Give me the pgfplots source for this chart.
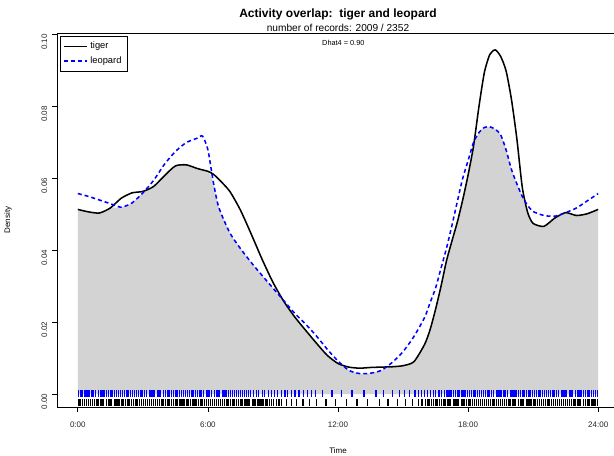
\documentclass[border=0pt]{standalone}
\usepackage{fontspec}
\setmainfont{Liberation Sans}
\usepackage{pgfplots}
\usepackage{pgfplotstable}
\pgfplotsset{compat=1.18}

% kernel density estimates of activity (density per hour)
\pgfplotstableread{
t      tiger   leopard  overlap
0.0    0.0514  0.0558   0.0514
0.5    0.0507  0.0550   0.0507
1.0    0.0504  0.0540   0.0504
1.5    0.0518  0.0530   0.0518
2.0    0.0545  0.0520   0.0520
2.5    0.0560  0.0532   0.0532
3.0    0.0564  0.0560   0.0560
3.5    0.0578  0.0595   0.0578
4.0    0.0608  0.0640   0.0608
4.5    0.0635  0.0675   0.0635
5.0    0.0638  0.0700   0.0638
5.5    0.0628  0.0712   0.0628
5.75   0.0624  0.0718   0.0624
6.0    0.0620  0.0680   0.0620
6.25   0.0612  0.0590   0.0590
6.5    0.0598  0.0520   0.0520
7.0    0.0565  0.0450   0.0450
7.5    0.0512  0.0405   0.0405
8.0    0.0445  0.0366   0.0366
8.5    0.0375  0.0330   0.0330
9.0    0.0311  0.0295   0.0295
9.5    0.0258  0.0260   0.0258
10.0   0.0215  0.0225   0.0215
10.5   0.0178  0.0195   0.0178
11.0   0.0142  0.0162   0.0142
11.5   0.0108  0.0125   0.0108
12.0   0.0085  0.0092   0.0085
12.5   0.0075  0.0066   0.0066
13.0   0.0072  0.0057   0.0057
13.5   0.0074  0.0058   0.0058
14.0   0.0075  0.0066   0.0066
14.5   0.0076  0.0088   0.0076
15.0   0.0079  0.0118   0.0079
15.5   0.0090  0.0160   0.0090
16.0   0.0139  0.0214   0.0139
16.25  0.0180  0.0255   0.0180
16.5   0.0236  0.0295   0.0236
16.75  0.0300  0.0350   0.0300
17.0   0.0370  0.0405   0.0370
17.25  0.0425  0.0468   0.0425
17.5   0.0478  0.0535   0.0478
17.75  0.0540  0.0600   0.0540
18.0   0.0610  0.0650   0.0610
18.25  0.0690  0.0700   0.0690
18.5   0.0800  0.0728   0.0728
18.75  0.0895  0.0742   0.0742
19.0   0.0945  0.0744   0.0744
19.25  0.0958  0.0737   0.0737
19.5   0.0940  0.0722   0.0722
19.75  0.0900  0.0680   0.0680
20.0   0.0820  0.0625   0.0625
20.25  0.0710  0.0585   0.0585
20.5   0.0575  0.0550   0.0550
20.75  0.0505  0.0525   0.0505
21.0   0.0475  0.0508   0.0475
21.5   0.0467  0.0497   0.0467
22.0   0.0490  0.0495   0.0490
22.5   0.0505  0.0505   0.0505
23.0   0.0497  0.0518   0.0497
23.5   0.0502  0.0538   0.0502
24.0   0.0514  0.0558   0.0514
}\densities

% record times (hours) for the rugs
\pgfplotstableread[row sep=\\]{
t\\
0.02\\ 0.11\\ 0.19\\ 0.30\\ 0.38\\ 0.47\\ 0.55\\ 0.66\\ 0.74\\ 0.83\\ 0.95\\ 1.03\\ 1.12\\ 1.21\\ 1.33\\ 1.41\\ 1.50\\ 1.58\\ 1.69\\ 1.77\\
1.86\\ 1.98\\ 2.06\\ 2.15\\ 2.27\\ 2.35\\ 2.44\\ 2.52\\ 2.63\\ 2.71\\ 2.80\\ 2.92\\ 3.00\\ 3.09\\ 3.18\\ 3.30\\ 3.38\\ 3.47\\ 3.55\\ 3.66\\
3.74\\ 3.83\\ 3.95\\ 4.03\\ 4.12\\ 4.21\\ 4.33\\ 4.41\\ 4.50\\ 4.58\\ 4.69\\ 4.77\\ 4.86\\ 4.98\\ 5.06\\ 5.15\\ 5.27\\ 5.35\\ 5.44\\ 5.52\\
5.63\\ 5.71\\ 5.80\\ 5.92\\ 6.00\\ 6.09\\ 6.18\\ 6.30\\ 6.38\\ 6.47\\ 6.55\\ 6.66\\ 6.74\\ 6.83\\ 6.95\\ 7.03\\ 7.12\\ 7.21\\ 7.33\\ 7.41\\
7.50\\ 7.58\\ 7.69\\ 7.77\\ 7.86\\ 7.98\\ 8.10\\ 8.25\\ 8.33\\ 8.51\\ 8.62\\ 8.80\\ 8.93\\ 9.08\\ 9.21\\ 9.40\\ 9.55\\ 9.68\\ 9.87\\ 10.02\\
10.20\\ 10.41\\ 10.58\\ 10.79\\ 10.95\\ 11.30\\ 11.72\\ 12.15\\ 12.64\\ 13.20\\ 13.75\\ 14.10\\ 14.52\\ 14.83\\ 15.05\\ 15.31\\ 15.55\\ 15.70\\ 15.86\\ 15.98\\
16.12\\ 16.25\\ 16.40\\ 16.51\\ 16.66\\ 16.78\\ 16.90\\ 17.03\\ 17.12\\ 17.21\\ 17.33\\ 17.41\\ 17.50\\ 17.58\\ 17.69\\ 17.77\\ 17.86\\ 17.98\\ 18.06\\ 18.15\\
18.27\\ 18.35\\ 18.44\\ 18.52\\ 18.63\\ 18.71\\ 18.80\\ 18.92\\ 19.00\\ 19.09\\ 19.18\\ 19.30\\ 19.38\\ 19.47\\ 19.55\\ 19.66\\ 19.74\\ 19.83\\ 19.95\\ 20.03\\
20.12\\ 20.21\\ 20.33\\ 20.41\\ 20.50\\ 20.58\\ 20.69\\ 20.77\\ 20.86\\ 20.98\\ 21.06\\ 21.15\\ 21.27\\ 21.35\\ 21.44\\ 21.52\\ 21.63\\ 21.71\\ 21.80\\ 21.92\\
22.00\\ 22.09\\ 22.18\\ 22.30\\ 22.38\\ 22.47\\ 22.55\\ 22.66\\ 22.74\\ 22.83\\ 22.95\\ 23.03\\ 23.12\\ 23.21\\ 23.33\\ 23.41\\ 23.50\\ 23.58\\ 23.69\\ 23.77\\
23.86\\ 23.97\\
}\leopardrec

\pgfplotstableread[row sep=\\]{
t\\
0.05\\ 0.13\\ 0.22\\ 0.31\\ 0.40\\ 0.49\\ 0.57\\ 0.68\\ 0.76\\ 0.85\\ 0.93\\ 1.04\\ 1.12\\ 1.20\\ 1.31\\ 1.40\\ 1.49\\ 1.57\\ 1.68\\ 1.76\\
1.85\\ 1.93\\ 2.04\\ 2.12\\ 2.20\\ 2.31\\ 2.40\\ 2.49\\ 2.57\\ 2.68\\ 2.76\\ 2.85\\ 2.93\\ 3.04\\ 3.12\\ 3.20\\ 3.31\\ 3.40\\ 3.49\\ 3.57\\
3.68\\ 3.76\\ 3.85\\ 3.93\\ 4.04\\ 4.12\\ 4.20\\ 4.31\\ 4.40\\ 4.49\\ 4.57\\ 4.68\\ 4.76\\ 4.85\\ 4.93\\ 5.04\\ 5.12\\ 5.20\\ 5.31\\ 5.40\\
5.49\\ 5.57\\ 5.68\\ 5.76\\ 5.85\\ 5.93\\ 6.04\\ 6.12\\ 6.20\\ 6.31\\ 6.40\\ 6.49\\ 6.57\\ 6.68\\ 6.76\\ 6.85\\ 6.93\\ 7.04\\ 7.12\\ 7.20\\
7.31\\ 7.40\\ 7.49\\ 7.57\\ 7.68\\ 7.76\\ 7.85\\ 7.93\\ 8.04\\ 8.12\\ 8.20\\ 8.31\\ 8.40\\ 8.49\\ 8.57\\ 8.68\\ 8.76\\ 8.85\\ 8.93\\ 9.04\\
9.15\\ 9.28\\ 9.40\\ 9.62\\ 9.85\\ 10.10\\ 10.38\\ 10.70\\ 11.02\\ 11.45\\ 11.90\\ 12.40\\ 12.88\\ 13.35\\ 13.90\\ 14.30\\ 14.75\\ 15.10\\ 15.42\\ 15.70\\
15.88\\ 16.04\\ 16.12\\ 16.20\\ 16.31\\ 16.40\\ 16.49\\ 16.57\\ 16.68\\ 16.76\\ 16.85\\ 16.93\\ 17.04\\ 17.12\\ 17.20\\ 17.31\\ 17.40\\ 17.49\\ 17.57\\ 17.68\\
17.76\\ 17.85\\ 17.93\\ 18.04\\ 18.12\\ 18.20\\ 18.31\\ 18.40\\ 18.49\\ 18.57\\ 18.68\\ 18.76\\ 18.85\\ 18.93\\ 19.04\\ 19.12\\ 19.20\\ 19.31\\ 19.40\\ 19.49\\
19.57\\ 19.68\\ 19.76\\ 19.85\\ 19.93\\ 20.04\\ 20.12\\ 20.20\\ 20.31\\ 20.40\\ 20.49\\ 20.57\\ 20.68\\ 20.76\\ 20.85\\ 20.93\\ 21.04\\ 21.12\\ 21.20\\ 21.31\\
21.40\\ 21.49\\ 21.57\\ 21.68\\ 21.76\\ 21.85\\ 21.93\\ 22.04\\ 22.12\\ 22.20\\ 22.31\\ 22.40\\ 22.49\\ 22.57\\ 22.68\\ 22.76\\ 22.85\\ 22.93\\ 23.04\\ 23.12\\
23.20\\ 23.31\\ 23.40\\ 23.49\\ 23.57\\ 23.68\\ 23.76\\ 23.85\\ 23.96\\
}\tigerrec

\definecolor{olap}{HTML}{D3D3D3}

\begin{document}
\begin{tikzpicture}
\path[use as bounding box] (-42.75pt,-36.75pt) rectangle (417.75pt,305.25pt);
\clip (-42.75pt,-36.75pt) rectangle (417.75pt,305.25pt);
\begin{axis}[
  name=ax,
  at={(0pt,0pt)}, anchor=south west,
  scale only axis,
  width=421.5pt, height=280.5pt,
  xmin=-0.96, xmax=24.96,
  ymin=-0.0036, ymax=0.1005,
  axis line style={line width=0.5pt},
  tick style={black, line width=0.5pt},
  tick align=outside,
  major tick length=3.75pt,
  xtick pos=bottom, ytick pos=left,
  xtick={0,6,12,18,24},
  xticklabels={0:00,6:00,12:00,18:00,24:00},
  ytick={0,0.02,0.04,0.06,0.08,0.10},
  yticklabels={0.00,0.02,0.04,0.06,0.08,0.10},
  /pgf/number format/assume math mode=true,
  ticklabel style={font=\fontsize{6}{7}\selectfont, text=black!85},
  yticklabel style={rotate=90, anchor=south, xshift=-5.5pt},
  xticklabel style={anchor=north, yshift=-4pt},
  xlabel={Time}, ylabel={Density},
  every axis x label/.style={at={(axis description cs:0.5,0)}, anchor=center, yshift=-32.5pt, font=\fontsize{6}{7}\selectfont},
  every axis y label/.style={at={(axis description cs:-0.0872,0.5)}, rotate=90, anchor=center, font=\fontsize{6}{7}\selectfont},
  legend style={at={(rel axis cs:0.005,0.993)}, anchor=north west,
    draw=black, line width=0.5pt, fill=white,
    font=\fontsize{7}{8}\selectfont, inner sep=2.5pt, row sep=0.5pt,
    cells={anchor=west}},
  legend image code/.code={\draw[#1] (0pt,0pt) -- (17pt,0pt);},
]
% area shared by both activity curves
\addplot[draw=none, fill=olap, smooth, tension=0.4, forget plot]
  table[x=t, y=overlap] {\densities} \closedcycle;
% rugs of individual records
\addplot[only marks, mark=|, mark size=2.6pt, blue, mark options={line width=0.95pt}, forget plot]
  table[x index=0, y index=0, y expr=0.00014] {\leopardrec};
\addplot[only marks, mark=|, mark size=2.6pt, black, mark options={line width=0.95pt}, forget plot]
  table[x index=0, y index=0, y expr=-0.00236] {\tigerrec};
% density curves
\addplot[black, line width=1.15pt, smooth, tension=0.4]
  table[x=t, y=tiger] {\densities};
\addlegendentry{tiger}
\addplot[blue, line width=1.15pt, dash pattern=on 3pt off 2.25pt, smooth, tension=0.4]
  table[x=t, y=leopard] {\densities};
\addlegendentry{leopard}
\end{axis}
\node[font=\bfseries\fontsize{9}{10}\selectfont] at ([yshift=14pt]ax.north) {Activity overlap:\ \ tiger and leopard};
\node[font=\fontsize{7.6}{8}\selectfont, anchor=base] at ([yshift=1pt]ax.north) {number of records: 2009 / 2352};
\node[font=\fontsize{5.5}{6}\selectfont] at ([xshift=4pt, yshift=-7.5pt]ax.north) {Dhat4 = 0.90};
\end{tikzpicture}
\end{document}
